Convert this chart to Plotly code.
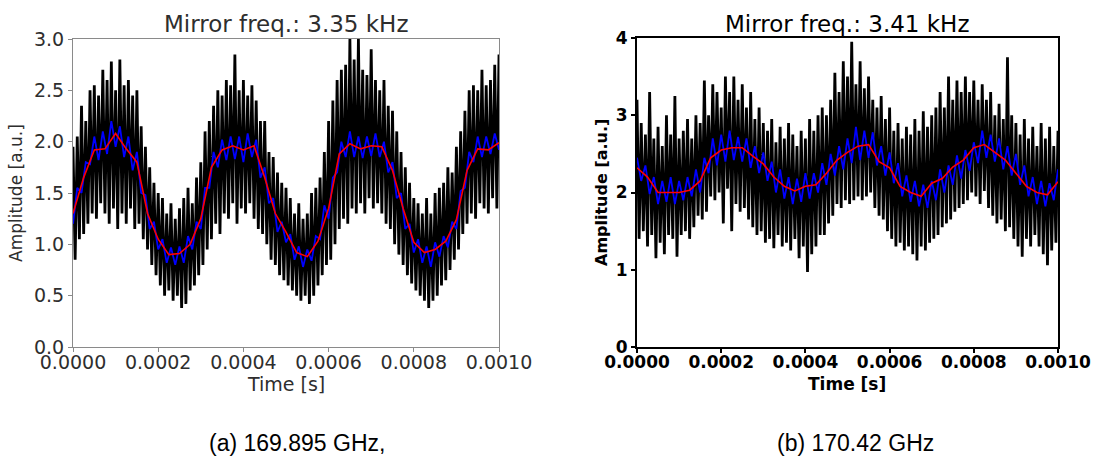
import numpy as np
import plotly.graph_objects as go

# ---------------- data: panel (a) ----------------
T_END = 0.001
a_black_hi = [1.95,2.05,2.35,2.2,2.5,2.55,2.45,2.7,2.6,2.78,2.5,2.8,2.55,2.6,2.45,2.5,2.15,1.95,1.75,1.6,
              1.5,1.45,1.3,1.4,1.25,1.35,1.45,1.55,1.4,1.65,1.8,2.1,2.2,2.35,2.5,2.45,2.6,2.55,2.85,2.5,
              2.6,2.45,2.55,2.4,2.2,2.2,1.9,1.85,1.7,1.6,1.55,1.45,1.3,1.4,1.25,1.3,1.5,1.55,1.65,1.9,
              2.2,2.4,2.6,2.7,2.75,3.0,2.8,3.0,2.7,2.65,2.9,2.6,2.5,2.6,2.35,2.3,2.1,1.9,1.75,1.6,
              1.45,1.4,1.3,1.45,1.3,1.5,1.55,1.6,1.75,1.7,1.95,2.1,2.3,2.5,2.55,2.5,2.7,2.55,2.6,2.75,2.85]
a_black_lo = [0.85,1.05,1.1,1.2,1.3,1.25,1.4,1.3,1.2,1.35,1.15,1.3,1.2,1.35,1.15,1.2,1.05,0.95,0.8,0.7,
              0.6,0.5,0.55,0.45,0.5,0.38,0.42,0.55,0.6,0.7,0.8,0.95,1.05,1.2,1.1,1.3,1.25,1.4,1.2,1.35,
              1.3,1.4,1.25,1.15,1.1,1.0,0.85,0.8,0.7,0.65,0.6,0.55,0.5,0.45,0.5,0.42,0.5,0.6,0.7,0.8,
              0.85,1.0,1.15,1.25,1.2,1.35,1.3,1.4,1.3,1.45,1.35,1.4,1.3,1.2,1.15,1.0,0.9,0.8,0.7,0.62,
              0.55,0.5,0.45,0.38,0.45,0.5,0.6,0.65,0.75,0.85,0.95,1.1,1.2,1.3,1.25,1.4,1.35,1.3,1.45,1.35,1.3]
a_blue = [1.20,1.55,1.50,1.80,1.78,2.05,1.82,2.10,1.88,2.20,1.95,2.15,1.85,2.05,1.72,1.90,1.50,1.48,1.15,1.22,
          0.95,1.05,0.82,0.97,0.80,0.98,0.82,1.08,0.95,1.22,1.15,1.55,1.55,1.90,1.75,2.02,1.82,2.05,1.83,2.05,
          1.80,2.08,1.85,2.02,1.65,1.75,1.40,1.45,1.12,1.22,1.02,1.10,0.85,0.98,0.78,0.95,0.84,1.08,1.05,1.38,
          1.25,1.65,1.70,2.00,1.85,2.10,1.85,2.05,1.84,2.05,1.86,2.08,1.85,2.00,1.70,1.80,1.45,1.50,1.15,1.20,
          0.92,1.05,0.82,0.98,0.78,1.02,0.88,1.08,0.97,1.22,1.15,1.52,1.55,1.90,1.80,2.05,1.85,2.05,1.88,2.08,1.92]
a_red = [1.30,1.65,1.92,1.93,2.08,1.93,1.80,1.30,1.05,0.90,0.91,1.00,1.25,1.75,1.92,1.96,1.92,1.96,1.65,1.30,
         1.12,0.92,0.88,1.03,1.35,1.88,1.98,1.93,1.96,1.95,1.72,1.35,1.02,0.92,0.95,1.03,1.24,1.72,1.93,1.92,1.99]

# ---------------- data: panel (b) ----------------
b_black_hi = [3.2,2.9,2.75,3.3,2.7,2.85,2.6,3.0,2.75,3.25,2.7,2.8,2.95,2.7,3.0,2.9,3.45,3.0,3.4,3.3,
              3.1,3.5,3.3,3.5,3.2,3.4,3.1,3.3,2.95,3.1,2.9,2.8,2.95,2.65,2.85,2.7,2.9,2.75,2.6,2.8,
              2.7,2.95,2.8,3.0,3.1,3.0,3.2,3.55,3.3,3.7,3.5,3.95,3.4,3.7,3.35,3.5,3.2,3.1,3.25,2.95,
              3.1,2.8,2.9,2.7,2.85,2.75,2.95,2.8,3.05,2.85,3.0,3.1,3.3,3.1,3.5,3.2,3.45,3.3,3.5,3.3,
              3.45,3.2,3.4,3.2,3.3,3.0,3.15,2.95,3.75,3.0,2.9,2.75,2.95,2.7,2.85,2.6,2.9,2.7,2.85,2.6,2.8]
b_black_lo = [1.4,1.5,1.3,1.45,1.15,1.35,1.2,1.45,1.4,1.17,1.45,1.5,1.4,1.55,1.7,1.65,1.75,1.95,1.9,2.0,
              1.6,2.05,1.5,1.85,1.75,1.8,1.65,1.55,1.45,1.5,1.35,1.4,1.28,1.45,1.3,1.35,1.25,1.4,1.15,1.3,
              0.97,1.2,1.3,1.45,1.45,1.6,1.7,1.85,1.8,1.9,1.85,1.9,1.95,1.9,1.95,2.0,1.8,1.7,1.65,1.5,
              1.4,1.3,1.35,1.25,1.3,1.2,1.12,1.3,1.25,1.35,1.4,1.45,1.55,1.6,1.65,1.75,1.8,1.85,1.9,2.0,
              1.95,1.85,2.02,1.8,1.7,1.6,1.65,1.5,1.55,1.4,1.3,1.17,1.4,1.3,1.45,1.3,1.2,1.06,1.25,1.35,1.45]
b_blue = [2.45,2.15,2.35,1.98,2.20,1.85,2.15,1.88,2.20,1.85,2.15,1.90,2.20,1.95,2.30,2.00,2.45,2.25,2.70,2.35,
          2.75,2.40,2.80,2.42,2.72,2.40,2.70,2.32,2.60,2.25,2.52,2.15,2.40,2.00,2.30,1.92,2.20,1.85,2.18,1.88,
          2.25,1.92,2.25,2.00,2.38,2.10,2.50,2.22,2.60,2.30,2.70,2.38,2.85,2.42,2.80,2.45,2.78,2.35,2.60,2.22,
          2.52,2.12,2.38,1.95,2.22,1.88,2.15,1.82,2.10,1.80,2.15,1.90,2.30,2.00,2.35,2.10,2.48,2.18,2.55,2.28,
          2.65,2.38,2.80,2.45,2.75,2.40,2.70,2.30,2.60,2.22,2.50,2.10,2.35,1.95,2.20,1.85,2.15,1.82,2.12,1.90,2.30]
b_red = [2.32,2.20,2.00,2.00,2.00,2.03,2.15,2.45,2.55,2.58,2.58,2.47,2.37,2.20,2.08,2.02,2.08,2.10,2.25,2.42,
         2.52,2.60,2.62,2.40,2.32,2.08,2.00,1.95,2.12,2.18,2.33,2.42,2.58,2.62,2.52,2.42,2.25,2.08,2.00,1.97,2.14]

a_yticks = [0.0, 0.5, 1.0, 1.5, 2.0, 2.5, 3.0]
b_yticks = [0, 1, 2, 3, 4]
xticks = [0.0, 0.0002, 0.0004, 0.0006, 0.0008, 0.0010]


def zigzag(hi, lo):
    n = len(hi)
    t = np.linspace(0, T_END, n)
    dt = T_END / (n - 1) / 2
    xs, ys = [], []
    for i in range(n):
        xs.append(t[i]); ys.append(hi[i])
        if i < n - 1:
            xs.append(t[i] + dt); ys.append(lo[i])
    return xs, ys


fig = go.Figure()
for (hi, lo, blue, red, xa, ya) in [(a_black_hi, a_black_lo, a_blue, a_red, "x", "y"),
                                    (b_black_hi, b_black_lo, b_blue, b_red, "x2", "y2")]:
    bx, by = zigzag(hi, lo)
    fig.add_trace(go.Scatter(x=bx, y=by, mode="lines", line=dict(color="black", width=2.8),
                             xaxis=xa, yaxis=ya, showlegend=False, hoverinfo="skip"))
    fig.add_trace(go.Scatter(x=np.linspace(0, T_END, len(blue)), y=blue, mode="lines",
                             line=dict(color="#0000ff", width=1.8),
                             xaxis=xa, yaxis=ya, showlegend=False, hoverinfo="skip"))
    fig.add_trace(go.Scatter(x=np.linspace(0, T_END, len(red)), y=red, mode="lines",
                             line=dict(color="#ff0000", width=1.6),
                             xaxis=xa, yaxis=ya, showlegend=False, hoverinfo="skip"))

W, H = 1099, 458
def dom_x(a, b): return [a / W, b / W]
def dom_y(top, bot): return [(H - bot) / H, (H - top) / H]

GRAYTXT = "#2e2e2e"
tick_font_a = dict(family="DejaVu Sans", size=19, color=GRAYTXT)
tick_font_b = dict(family="DejaVu Sans", size=17, color="black", weight="bold")

common = dict(showgrid=False, zeroline=False, showline=True, mirror=True, ticks="outside",
              ticklen=4, automargin=False)
fig.update_layout(
    width=W, height=H, margin=dict(l=0, r=0, t=0, b=0),
    paper_bgcolor="white", plot_bgcolor="white",
    xaxis=dict(domain=dom_x(73, 499), range=[0, 0.001], tickvals=xticks, tickformat=".4f",
               linecolor="#8a8a8a", linewidth=1, tickcolor="#8a8a8a", ticklabelstandoff=-6,
               tickfont=tick_font_a, anchor="y", **common),
    yaxis=dict(domain=dom_y(39, 347), range=[0, 3.0], tickvals=a_yticks, tickformat=".1f",
               linecolor="#8a8a8a", linewidth=1, tickcolor="#8a8a8a",
               tickfont=tick_font_a, anchor="x", **common),
    xaxis2=dict(domain=dom_x(637, 1058), range=[0, 0.001], tickvals=xticks, tickformat=".4f",
                linecolor="black", linewidth=2, tickcolor="black", tickwidth=2, ticklabelstandoff=-5,
                tickfont=tick_font_b, anchor="y2", **common),
    yaxis2=dict(domain=dom_y(38, 347), range=[0, 4], tickvals=b_yticks, tickformat="d",
                linecolor="black", linewidth=2, tickcolor="black", tickwidth=2,
                tickfont=tick_font_b, anchor="x2", **common),
)

ann = [
    dict(text="Mirror freq.: 3.35 kHz", x=286 / W, y=(H - 24) / H, font=dict(family="DejaVu Sans", size=23, color=GRAYTXT)),
    dict(text="Mirror freq.: 3.41 kHz", x=847 / W, y=(H - 24) / H, font=dict(family="DejaVu Sans", size=23, color="black")),
    dict(text="Time [s]", x=286 / W, y=(H - 384) / H, font=dict(family="DejaVu Sans", size=19, color=GRAYTXT)),
    dict(text="<b>Time [s]</b>", x=847 / W, y=(H - 384) / H, font=dict(family="DejaVu Sans", size=17, color="black")),
    dict(text="Amplitude [a.u.]", x=16 / W, y=(H - 193) / H, textangle=-90, font=dict(family="DejaVu Sans", size=17, color=GRAYTXT)),
    dict(text="<b>Amplitude [a.u.]</b>", x=601 / W, y=(H - 193) / H, textangle=-90, font=dict(family="DejaVu Sans", size=16, color="black")),
    dict(text="(a) 169.895 GHz,", x=297 / W, y=(H - 443) / H, font=dict(family="Liberation Sans", size=23, color="black")),
    dict(text="(b) 170.42 GHz", x=855 / W, y=(H - 443) / H, font=dict(family="Liberation Sans", size=23, color="black")),
]
for a in ann:
    a.update(xref="paper", yref="paper", showarrow=False, xanchor="center", yanchor="middle")
fig.update_layout(annotations=ann)

fig.write_html("out.html", config={"displayModeBar": False},
               post_script="document.body.style.margin='0px';document.body.style.overflow='hidden';")
